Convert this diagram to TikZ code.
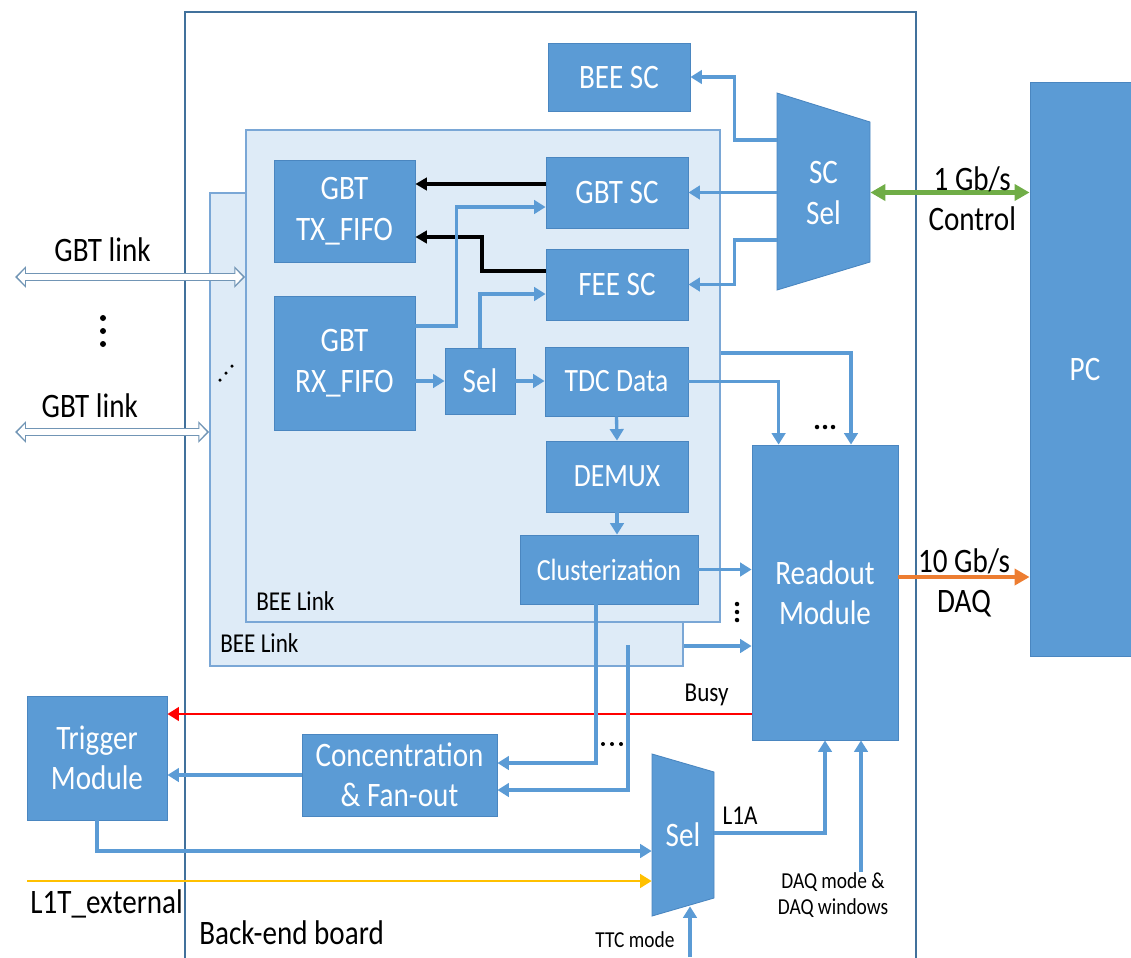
\documentclass[tikz,border=0pt]{standalone}
\usepackage{fontspec}
\setmainfont{Carlito}[FakeStretch=0.85]
\usetikzlibrary{arrows.meta,positioning,calc}
\definecolor{Block}{HTML}{5B9BD5}
\definecolor{BlockEdge}{HTML}{4A86C0}
\definecolor{Pane}{HTML}{DEEBF7}
\definecolor{PaneEdge}{HTML}{7AA7D6}
\definecolor{Board}{HTML}{41719C}
\definecolor{Wire}{HTML}{5B9BD5}
\definecolor{CtrlGreen}{HTML}{70AD47}
\definecolor{DaqOrange}{HTML}{ED7D31}
\definecolor{BusyRed}{HTML}{FF0000}
\definecolor{ExtYellow}{HTML}{FFC000}
\newcommand{\bigtext}{\fontsize{19.5}{23}\selectfont}
\newcommand{\midtext}{\fontsize{15.5}{18}\selectfont}
\newcommand{\smalltext}{\fontsize{13}{15}\selectfont}
\tikzset{
  block/.style={draw=BlockEdge,fill=Block,line width=0.5pt,text=white,align=center,font=\bigtext,inner sep=0pt},
  muxlabel/.style={text=white,align=center,font=\bigtext,inner sep=0pt},
  pane/.style={draw=PaneEdge,fill=Pane,line width=0.9pt},
  caption/.style={text=black,align=center,font=\bigtext,inner sep=0pt},
  wire/.style={-{Triangle[length=2.3mm,width=2.7mm]},draw=Wire,line width=1.9pt},
  ctrlwire/.style={-{Triangle[length=2.3mm,width=2.5mm]},draw=black,line width=2.2pt},
  fatwire/.style={line width=2.6pt},
  gbtouter/.style={draw=Board!75,fill=Board!75,line width=1.7mm,
    {Triangle[length=2.2mm,width=4.2mm]}-{Triangle[length=2.2mm,width=4.2mm]}},
  gbtinner/.style={draw=white,fill=white,line width=1.1mm,shorten <=0.5mm,shorten >=0.5mm,
    {Triangle[length=1.5mm,width=3.1mm]}-{Triangle[length=1.5mm,width=3.1mm]}},
  pip/.style={fill=black}
}
\begin{document}
\begin{tikzpicture}[x=0.02cm,y=-0.02cm]
  \useasboundingbox (0,0) rectangle (1131,957);
  \draw[Board,line width=0.8pt] (185,12) rectangle (916,975);

  \node[pane,minimum width=9.46cm,minimum height=9.46cm] (linkb) at (446.5,429.5) {};
  \node[pane,minimum width=9.48cm,minimum height=9.84cm] (linka) at (483,376) {};
  \node[caption,font=\midtext,anchor=west] at (256,601) {BEE Link};
  \node[caption,font=\midtext,anchor=west] at (220,643) {BEE Link};

  \node[block,minimum width=2.84cm,minimum height=1.36cm] (beesc) at (619,77) {BEE SC};
  \node[block,minimum width=2.82cm,minimum height=2.04cm] (gbttx) at (344.5,211) {GBT\\TX\_FIFO};
  \node[block,minimum width=2.82cm,minimum height=2.68cm] (gbtrx) at (344.5,363) {GBT\\RX\_FIFO};
  \node[block,minimum width=2.84cm,minimum height=1.42cm] (gbtsc) at (617,192.5) {GBT SC};
  \node[block,minimum width=2.84cm,minimum height=1.42cm] (feesc) at (617,284.5) {FEE SC};
  \node[block,minimum width=1.4cm,minimum height=1.32cm] (sel) at (480,381) {Sel};
  \node[block,minimum width=2.86cm,minimum height=1.38cm,font=\fontsize{18.5}{22}\selectfont] (tdc) at (616.5,381.5) {TDC Data};
  \node[block,minimum width=2.84cm,minimum height=1.42cm,font=\fontsize{18.5}{22}\selectfont] (demux) at (617,476.5) {DEMUX};
  \node[block,minimum width=3.56cm,minimum height=1.38cm,font=\fontsize{17.5}{21}\selectfont] (clus) at (609,569.5) {Clusterization};
  \node[block,minimum width=2.92cm,minimum height=5.9cm] (readout) at (825,592.5) {Readout\\Module};
  \node[block,minimum width=2.2cm,minimum height=11.48cm] (pc) at (1085,369) {PC};
  \node[block,minimum width=2.8cm,minimum height=2.48cm] (trigger) at (97,758) {Trigger\\Module};
  \node[block,minimum width=3.9cm,minimum height=1.64cm] (conc) at (399.5,775) {Concentration\\\& Fan-out};

  \filldraw[fill=Block,draw=BlockEdge,line width=0.5pt] (777,93) -- (870,122) -- (870,262) -- (777,290) -- cycle;
  \node[muxlabel,minimum width=1.86cm,minimum height=3.94cm] (scsel) at (823.5,193) {SC\\Sel};
  \filldraw[fill=Block,draw=BlockEdge,line width=0.5pt] (652,754) -- (714,772) -- (714,898) -- (652,916) -- cycle;
  \node[muxlabel,minimum width=1.24cm,minimum height=3.24cm] (selb) at (683,835) {Sel};

  \draw[ctrlwire] (gbtsc.west |- 0,184) -- (gbttx.east |- 0,184);
  \draw[ctrlwire] (feesc.west |- 0,271) -- ++(-64,0) |- (gbttx.east |- 0,237);
  \draw[wire] (gbtrx.east |- 0,326) -- ++(41,0) |- (gbtsc.west |- 0,207);
  \draw[wire] (sel.north) |- (feesc.west |- 0,294);
  \draw[wire] (gbtrx.east |- sel.west) -- (sel.west);
  \draw[wire] (sel.east) -- (tdc.west |- sel.east);
  \draw[wire] (tdc.south) -- (demux.north);
  \draw[wire] (demux.south) -- (clus.north -| demux.south);

  \draw[wire] (scsel.west |- 0,140) -- ++(-42,0) |- (beesc.east);
  \draw[wire] (scsel.west |- gbtsc.east) -- (gbtsc.east);
  \draw[wire] (scsel.west |- 0,240) -- ++(-42,0) |- (feesc.east);
  \draw[fatwire,draw=CtrlGreen,fill=CtrlGreen,{Triangle[length=3mm,width=3.2mm]}-{Triangle[length=3mm,width=3.2mm]}] (scsel.east |- gbtsc.east) -- (pc.west |- gbtsc.east)
    node[caption,pos=0.64,yshift=-0.12cm] {1 Gb/s\\Control};

  \draw[wire] (tdc.east) -| ($(readout.north west)+(27,0)$);
  \draw[wire] (linka.east |- 0,353) -| ($(readout.north)+(26,0)$);
  \draw[wire] (clus.east) -- (readout.west |- clus.east);
  \draw[wire] (linkb.east |- 0,646) -- (readout.west |- 0,646);
  \draw[fatwire,draw=DaqOrange,fill=DaqOrange,-{Triangle[length=3mm,width=3.2mm]}] (readout.east |- 0,577) -- (pc.west |- 0,577)
    node[caption,midway,yshift=-0.12cm] {10 Gb/s\\DAQ};
  \draw[-{Triangle[length=2.3mm,width=2.7mm]},draw=BusyRed,fill=BusyRed,line width=1.5pt] (readout.west |- 0,714) -- (trigger.east |- 0,714)
    node[caption,font=\midtext,pos=0.077,yshift=0.38cm] {Busy};

  \coordinate (tap) at (628,645);
  \draw[wire] ($(clus.south)+(-13,0)$) |- (conc.east |- 0,763);
  \draw[wire] (tap) |- (conc.east |- 0,790);
  \draw[wire] (conc.west) -- (trigger.east |- conc.west);
  \draw[wire] (trigger.south) |- (selb.west |- 0,851);
  \coordinate (ext) at (27,881);
  \draw[-{Triangle[length=2.3mm,width=2.7mm]},draw=ExtYellow,fill=ExtYellow,line width=1.5pt] (ext) -- (selb.west |- ext);
  \draw[wire] (selb.east |- 0,833) -| (readout.south)
    node[caption,font=\midtext,pos=0.116,yshift=0.34cm] {L1A};
  \node[caption,font=\smalltext] (daqmode) at (833,895) {DAQ mode \&\\DAQ windows};
  \draw[wire] (daqmode.north -| 861,0) -- (readout.south -| 861,0);
  \coordinate (ttc) at (690,957);
  \draw[wire] (ttc) -- ($(selb.south)+(7,-10)$);
  \node[caption,font=\smalltext] at (635,940) {TTC mode};

  \coordinate (gbtla) at (15,277);
  \draw[gbtouter] (gbtla) -- (linka.west |- gbtla);
  \draw[gbtinner] (gbtla) -- (linka.west |- gbtla)
    node[caption,pos=0.38,yshift=0.54cm] {GBT link};
  \coordinate (gbtlb) at (15,432);
  \draw[gbtouter] (gbtlb) -- (linkb.west |- gbtlb);
  \draw[gbtinner] (gbtlb) -- (linkb.west |- gbtlb)
    node[caption,pos=0.385,yshift=0.52cm] {GBT link};

  \foreach \y in {318,331,344} \fill[pip] (103,\y) circle (0.06cm);
  \foreach \x/\y in {220/380,226/373,232/366} \fill[pip] (\x,\y) circle (0.035cm);
  \foreach \x in {817,825,833} \fill[pip] (\x,427) circle (0.045cm);
  \foreach \y in {604,612,620} \fill[pip] (737,\y) circle (0.045cm);
  \foreach \x in {603,612,621} \fill[pip] (\x,744) circle (0.04cm);

  \node[caption,anchor=west] at (30,904) {L1T\_external};
  \node[caption,anchor=west] at (199,933) {Back-end board};
\end{tikzpicture}
\end{document}
